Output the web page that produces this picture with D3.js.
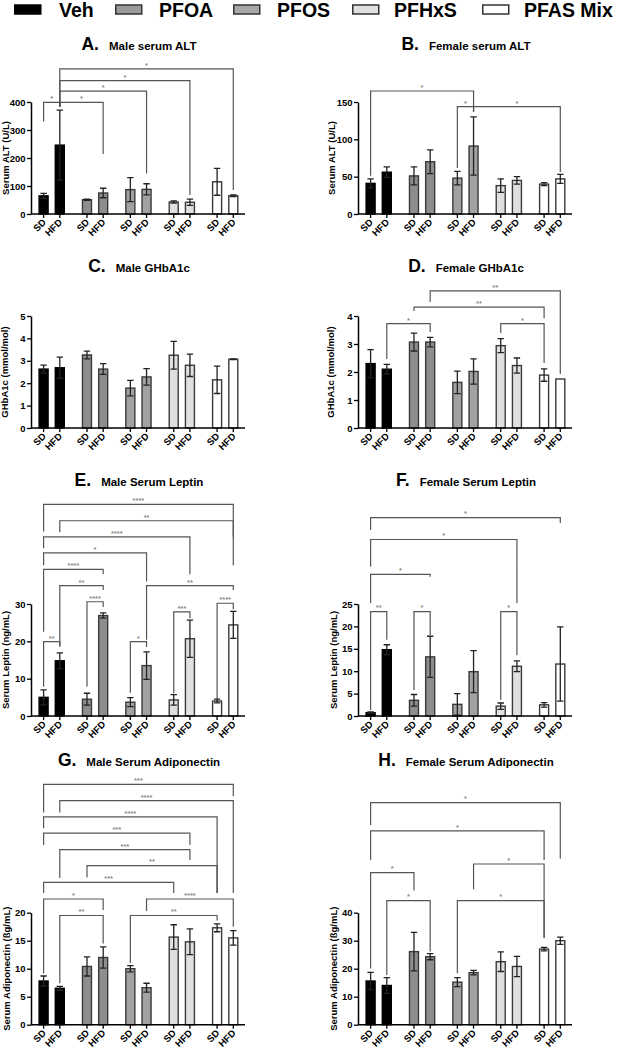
<!DOCTYPE html>
<html><head><meta charset="utf-8">
<script src="https://cdn.jsdelivr.net/npm/d3@7"></script>
<style>body{margin:0;background:#fff}svg{display:block;font-family:"Liberation Sans",Arial,sans-serif}</style>
</head><body>
<script>
// ---------- data ----------
const groups = ["Veh", "PFOA", "PFOS", "PFHxS", "PFAS Mix"];
const diets = ["SD", "HFD"];
const fills = ["#000000", "#8e8e8e", "#a2a2a2", "#e0e0e0", "#ffffff"];

// order: Veh SD, Veh HFD, PFOA SD, PFOA HFD, PFOS SD, PFOS HFD, PFHxS SD, PFHxS HFD, Mix SD, Mix HFD
const aMean = [65, 246, 51, 75, 87, 88, 43, 42, 115, 65];
const aErr  = [9, 125, 2, 17, 43, 20, 4, 11, 48, 3];
const bMean = [41, 56, 51, 70, 48, 91, 38, 45, 40, 47];
const bErr  = [6, 7, 12, 16, 9, 39, 9, 5, 2, 6];
const cMean = [2.63, 2.69, 3.26, 2.63, 1.78, 2.28, 3.25, 2.8, 2.15, 3.07];
const cErr  = [0.18, 0.47, 0.17, 0.24, 0.35, 0.37, 0.62, 0.5, 0.61, 0.02];
const dMean = [2.3, 2.1, 3.07, 3.07, 1.63, 2.02, 2.94, 2.23, 1.89, 1.75];
const dErr  = [0.5, 0.17, 0.32, 0.17, 0.4, 0.45, 0.25, 0.27, 0.22, 0];
const eMean = [5, 14.8, 4.5, 26.9, 3.7, 13.5, 4.3, 20.7, 4, 24.4];
const eErr  = [2, 2.1, 1.6, 0.7, 1.2, 3.7, 1.4, 5, 0.5, 3.6];
const fMean = [0.74, 14.8, 3.5, 13.2, 2.6, 9.9, 2.2, 11.1, 2.5, 11.6];
const fErr  = [0.15, 1.1, 1.3, 4.6, 2.4, 4.7, 0.7, 1.2, 0.5, 8.3];
const gMean = [7.8, 6.5, 10.4, 12.0, 10.0, 6.6, 15.65, 14.8, 17.3, 15.5];
const gErr  = [0.9, 0.35, 1.7, 1.9, 0.55, 0.8, 2.2, 2.3, 0.7, 1.3];
const hMean = [15.6, 14.0, 26.1, 24.3, 15.2, 18.6, 22.5, 20.8, 27.0, 30.0];
const hErr  = [3.1, 2.8, 6.9, 1.1, 1.6, 0.8, 3.5, 3.6, 0.6, 1.3];

const aTicks = [0, 100, 200, 300, 400];
const bTicks = [0, 50, 100, 150];
const cTicks = [0, 1, 2, 3, 4, 5];
const dTicks = [0, 1, 2, 3, 4];
const eTicks = [0, 10, 20, 30];
const fTicks = [0, 5, 10, 15, 20, 25];
const gTicks = [0, 5, 10, 15, 20];
const hTicks = [0, 10, 20, 30, 40];

// significance brackets: [from bar, to bar, label, level, left leg end, right leg end] (values in y units)
const aSig = [[0,1,"*",399,330,383],[1,3,"*",399,383,214],[1,5,"*",439,383,145],[1,7,"*",476,383,68],[1,9,"*",518,383,86]];
const bSig = [[0,5,"*",164.7,51.3,143.7],[4,5,"*",143.7,61.6,136.6],[5,9,"*",143.7,136.6,56.3]];
const cSig = [];
const dSig = [[1,3,"*",3.725,2.46,3.43],[2,8,"**",4.32,4.18,3.92],[3,9,"**",4.9,4.5,1.93],[6,8,"*",3.725,3.39,2.32]];
const eSig = [[0,9,"****",56.7,49.4,40.4],[1,9,"**",52.3,49.2,48.0],[0,7,"****",48.0,44.9,38.0],[0,5,"*",43.7,40.4,36.0],
              [0,3,"****",39.3,22.6,38.0],[1,3,"**",34.9,18.6,33.75],[5,9,"**",34.9,20.4,33.75],[2,3,"****",30.6,7.85,29.2],
              [4,5,"*",19.9,6.2,18.5],[6,7,"***",27.9,6.1,26.2],[8,9,"****",30.2,4.55,28.6],[0,1,"**",19.9,7.85,18.6]];
const fSig = [[0,9,"*",44.3,41.5,43.1],[0,7,"*",39.4,33.3,25.2],[0,3,"*",31.6,25.2,31.1],[0,1,"**",23.3,1.3,17.0],
              [2,3,"*",23.3,5.8,18.1],[6,7,"*",23.3,3.6,13.6]];
const gSig = [[0,9,"***",42.9,37.9,40.8],[1,9,"****",40.0,37.9,23.5],[0,8,"****",37.1,35.1,23.5],[0,7,"***",34.2,32.1,32.1],
              [1,7,"***",31.25,26.2,29.4],[2,8,"**",28.4,26.3,23.5],[0,6,"***",25.4,23.5,23.5],[0,3,"*",22.45,9.2,20.5],
              [5,9,"****",22.45,20.3,17.5],[1,3,"**",19.5,7.4,14.5],[4,8,"**",19.5,11.0,18.6]];
const hSig = [[0,9,"*",79.3,71.3,59.4],[0,8,"*",69.2,58.8,58.8],[5,8,"*",57.4,48.4,30.9],[0,2,"*",54.3,20.1,47.9],
              [1,3,"*",44.3,17.75,26.1],[4,8,"*",44.3,18.4,31.2]];

// ---------- layout ----------
const panels = [
  {L:"A.", t:"Male serum ALT", yl:"Serum ALT (U/L)", m:aMean, e:aErr, ticks:aTicks, sig:aSig, x0:31, y0:214, ty:50, ylx:6},
  {L:"B.", t:"Female serum ALT", yl:"Serum ALT (U/L)", m:bMean, e:bErr, ticks:bTicks, sig:bSig, x0:358, y0:214, ty:50, ylx:332},
  {L:"C.", t:"Male GHbA1c", yl:"GHbA1c (mmol/mol)", m:cMean, e:cErr, ticks:cTicks, sig:cSig, x0:31, y0:428, ty:271.5, ylx:5},
  {L:"D.", t:"Female GHbA1c", yl:"GHbA1c (mmol/mol)", m:dMean, e:dErr, ticks:dTicks, sig:dSig, x0:358, y0:428, ty:272, ylx:330.5},
  {L:"E.", t:"Male Serum Leptin", yl:"Serum Leptin (ng/mL)", m:eMean, e:eErr, ticks:eTicks, sig:eSig, x0:31, y0:716, ty:486, ylx:5.5},
  {L:"F.", t:"Female Serum Leptin", yl:"Serum Leptin (ng/mL)", m:fMean, e:fErr, ticks:fTicks, sig:fSig, x0:358, y0:716, ty:486, ylx:334},
  {L:"G.", t:"Male Serum Adiponectin", yl:"Serum Adiponectin (ßg/mL)", m:gMean, e:gErr, ticks:gTicks, sig:gSig, x0:31, y0:1024.7, ty:766, ylx:7},
  {L:"H.", t:"Female Serum Adiponectin", yl:"Serum Adiponectin (ßg/mL)", m:hMean, e:hErr, ticks:hTicks, sig:hSig, x0:358, y0:1024.7, ty:766, ylx:333.5}
];
const W = 214, H = 112;

const svg = d3.select("body").append("svg").attr("width", 618).attr("height", 1050);

// legend
const legX = d3.scalePoint().domain(groups).range([14, 483]);
const legTextX = [59, 159, 277, 394, 524];
const leg = svg.append("g");
groups.forEach((gname, i) => {
  const sx = [14, 115, 233, 352, 482][i];
  leg.append("rect").attr("x", sx + 0.75).attr("y", 5).attr("width", 26).attr("height", 9)
     .attr("fill", i === 2 ? "#a8a8a8" : (i === 1 ? "#9a9a9a" : fills[i]))
     .attr("stroke", i === 0 ? "#000" : "#333").attr("stroke-width", 1.5);
  leg.append("text").attr("x", legTextX[i]).attr("y", 16.5).attr("font-size", 19.5)
     .attr("font-weight", "bold").attr("fill", "#000").text(gname);
});

const gx = d3.scalePoint().domain(groups).range([20.7, 194.2]);
const dx = d3.scalePoint().domain(diets).range([-8.1, 8.1]);
const barX = i => gx(groups[Math.floor(i / 2)]) + dx(diets[i % 2]);

panels.forEach(p => {
  const g = svg.append("g").attr("transform", `translate(${p.x0},0)`);
  const max = p.ticks[p.ticks.length - 1];
  const y = d3.scaleLinear().domain([0, max]).range([p.y0, p.y0 - H]);
  const idx = d3.range(10);

  // title
  const t = g.append("text").attr("x", W / 2 + 1).attr("y", p.ty).attr("text-anchor", "middle")
    .attr("font-weight", "bold").attr("fill", "#000");
  t.append("tspan").attr("font-size", 17.5).text(p.L);
  t.append("tspan").attr("font-size", 11.5).attr("dx", 10).text(p.t);

  // brackets
  p.sig.forEach(s => {
    const x1 = barX(s[0]), x2 = barX(s[1]);
    g.append("path")
      .attr("d", `M${x1},${y(s[4])}V${y(s[3])}H${x2}V${y(s[5])}`)
      .attr("fill", "none").attr("stroke", "#555").attr("stroke-width", 1.2);
    g.append("text").attr("x", (x1 + x2) / 2).attr("y", y(s[3]) - 1.2)
      .attr("text-anchor", "middle").attr("font-size", 7.5).attr("font-weight", "bold")
      .attr("fill", "#8a8a8a").text(s[2]);
  });

  // bars
  g.selectAll("rect.bar").data(idx).join("rect").attr("class", "bar")
    .attr("x", i => barX(i) - 4.5).attr("width", 9)
    .attr("y", i => y(p.m[i])).attr("height", i => p.y0 - y(p.m[i]))
    .attr("fill", i => fills[Math.floor(i / 2)])
    .attr("stroke", i => i < 2 ? "#000" : "#3a3a3a").attr("stroke-width", 1.4);

  // error bars
  idx.forEach(i => {
    if (p.e[i] <= 0) return;
    const cx = barX(i), top = y(p.m[i] + p.e[i]), bot = y(Math.max(0, p.m[i] - p.e[i]));
    g.append("path")
      .attr("d", `M${cx},${top}V${bot}M${cx - 3.2},${top}H${cx + 3.2}M${cx - 3.2},${bot}H${cx + 3.2}`)
      .attr("fill", "none").attr("stroke", "#222").attr("stroke-width", 1.3);
  });

  // y axis
  const ya = g.append("g").call(d3.axisLeft(y).tickValues(p.ticks).tickFormat(d3.format("d"))
    .tickSize(4).tickSizeOuter(0).tickPadding(1.5));
  ya.select(".domain").attr("stroke", "#000").attr("stroke-width", 1.5);
  ya.selectAll(".tick line").attr("stroke", "#000").attr("stroke-width", 1.3);
  ya.selectAll(".tick text").attr("font-size", 9.5).attr("font-weight", "bold")
    .attr("font-family", "'Liberation Sans',Arial,sans-serif").attr("fill", "#000");

  // x axis
  g.append("line").attr("x1", 0).attr("x2", W).attr("y1", p.y0).attr("y2", p.y0)
    .attr("stroke", "#000").attr("stroke-width", 1.5);
  idx.forEach(i => {
    g.append("line").attr("x1", barX(i)).attr("x2", barX(i)).attr("y1", p.y0).attr("y2", p.y0 + 4)
      .attr("stroke", "#000").attr("stroke-width", 1.3);
    g.append("text").attr("transform", `translate(${barX(i) + 3},${p.y0 + 9}) rotate(-45)`)
      .attr("text-anchor", "end").attr("font-size", 9.5).attr("font-weight", "bold")
      .attr("fill", "#000").text(diets[i % 2]);
  });

  // y label
  svg.append("text").attr("transform", `translate(${p.ylx},${p.y0 - H / 2}) rotate(-90)`)
    .attr("text-anchor", "middle").attr("dy", "0.35em").attr("font-size", 9.5)
    .attr("font-weight", "bold").attr("fill", "#000").text(p.yl);
});
</script>
</body></html>
